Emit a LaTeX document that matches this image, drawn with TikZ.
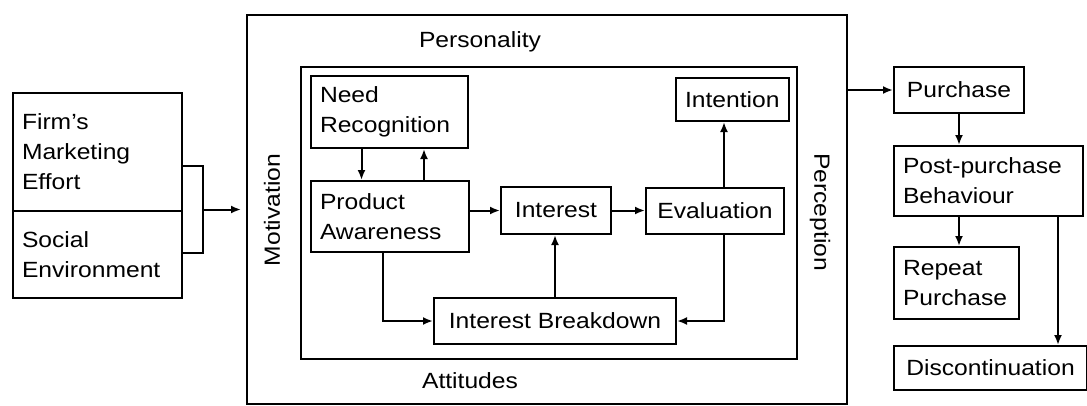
\documentclass[tikz,border=0pt]{standalone}
\usepackage{fontspec}
\usetikzlibrary{arrows.meta}
\setmainfont{Liberation Sans}[FakeStretch=1.12]
\begin{document}
\begin{tikzpicture}[x=1pt,y=-1pt,
        font=\fontsize{22}{30}\selectfont,
        blk/.style={draw, line width=2pt, anchor=north west, inner xsep=9pt, inner ysep=0pt, align=left},
        frame/.style={draw, line width=2pt, anchor=north west, inner sep=0pt},
        arr/.style={-{Latex[length=10pt,width=8pt]}, line width=2pt}]
        \useasboundingbox (0,0) rectangle (1087,405);
        \node[frame, minimum width=600, minimum height=389] (outer) at (246,14) {};
        \node[frame, minimum width=496, minimum height=292] (inner) at (300,66) {};
        \node (pers) at (480,42) {Personality};
        \node (att) at (470,381) {Attitudes};
        \node[rotate=90] (mot) at (272,210) {Motivation};
        \node[rotate=-90] (perc) at (820,212) {Perception};
        \node[blk, minimum width=169, minimum height=118, text width=151] (firm) at (12,92) {Firm's\\Marketing\\Effort};
        \node[blk, minimum width=169, minimum height=87, text width=151] (soc) at (12,210) {Social\\Environment};
        \node[frame, minimum width=21, minimum height=87] (join) at (181,165) {};
        \node[blk, minimum width=157, minimum height=72, text width=139] (need) at (310,75) {Need\\Recognition};
        \node[blk, minimum width=158, minimum height=71, text width=140] (aware) at (310,180) {Product\\Awareness};
        \node[blk, align=center, minimum width=110, minimum height=47] (inter) at (500,186) {Interest};
        \node[blk, align=center, minimum width=138, minimum height=46] (eval) at (645,187) {Evaluation};
        \node[blk, align=center, minimum width=105, minimum height=43] (intent) at (675,77) {Intention};
        \node[blk, align=center, minimum width=242, minimum height=46] (brk) at (433,297) {Interest Breakdown};
        \node[blk, align=center, minimum width=130, minimum height=46] (purch) at (893,66) {Purchase};
        \node[blk, minimum width=189, minimum height=70, text width=171] (post) at (893,145) {Post-purchase\\Behaviour};
        \node[blk, minimum width=125, minimum height=72, text width=107] (rep) at (893,246) {Repeat\\Purchase};
        \node[blk, align=center, minimum width=193, minimum height=44] (disc) at (893,345) {Discontinuation};
        \draw[arr, shorten >=5pt] (join.east) -- (join.east -| outer.west);
        \draw[arr] ([xshift=-28]need.south) -- ([xshift=-28]need.south |- aware.north);
        \draw[arr] ([xshift=34]aware.north) -- ([xshift=34]aware.north |- need.south);
        \draw[arr] (aware.east |- inter.west) -- (inter.west);
        \draw[arr] (inter.east) -- (inter.east -| eval.west);
        \draw[arr] ([xshift=9]eval.north) -- ([xshift=9]eval.north |- intent.south);
        \draw[arr] ([xshift=-7]aware.south) |- (brk.west);
        \draw[arr] (brk.north) -- (brk.north |- inter.south);
        \draw[arr] ([xshift=9]eval.south) |- (brk.east);
        \draw[arr] (outer.east |- purch.west) -- (purch.west);
        \draw[arr] (purch.south) -- (purch.south |- post.north);
        \draw[arr] (post.south -| purch.south) -- (rep.north -| purch.south);
        \draw[arr] ([xshift=-26]post.south east) -- ([xshift=-26]post.south east |- disc.north);
    \end{tikzpicture}
\end{document}
